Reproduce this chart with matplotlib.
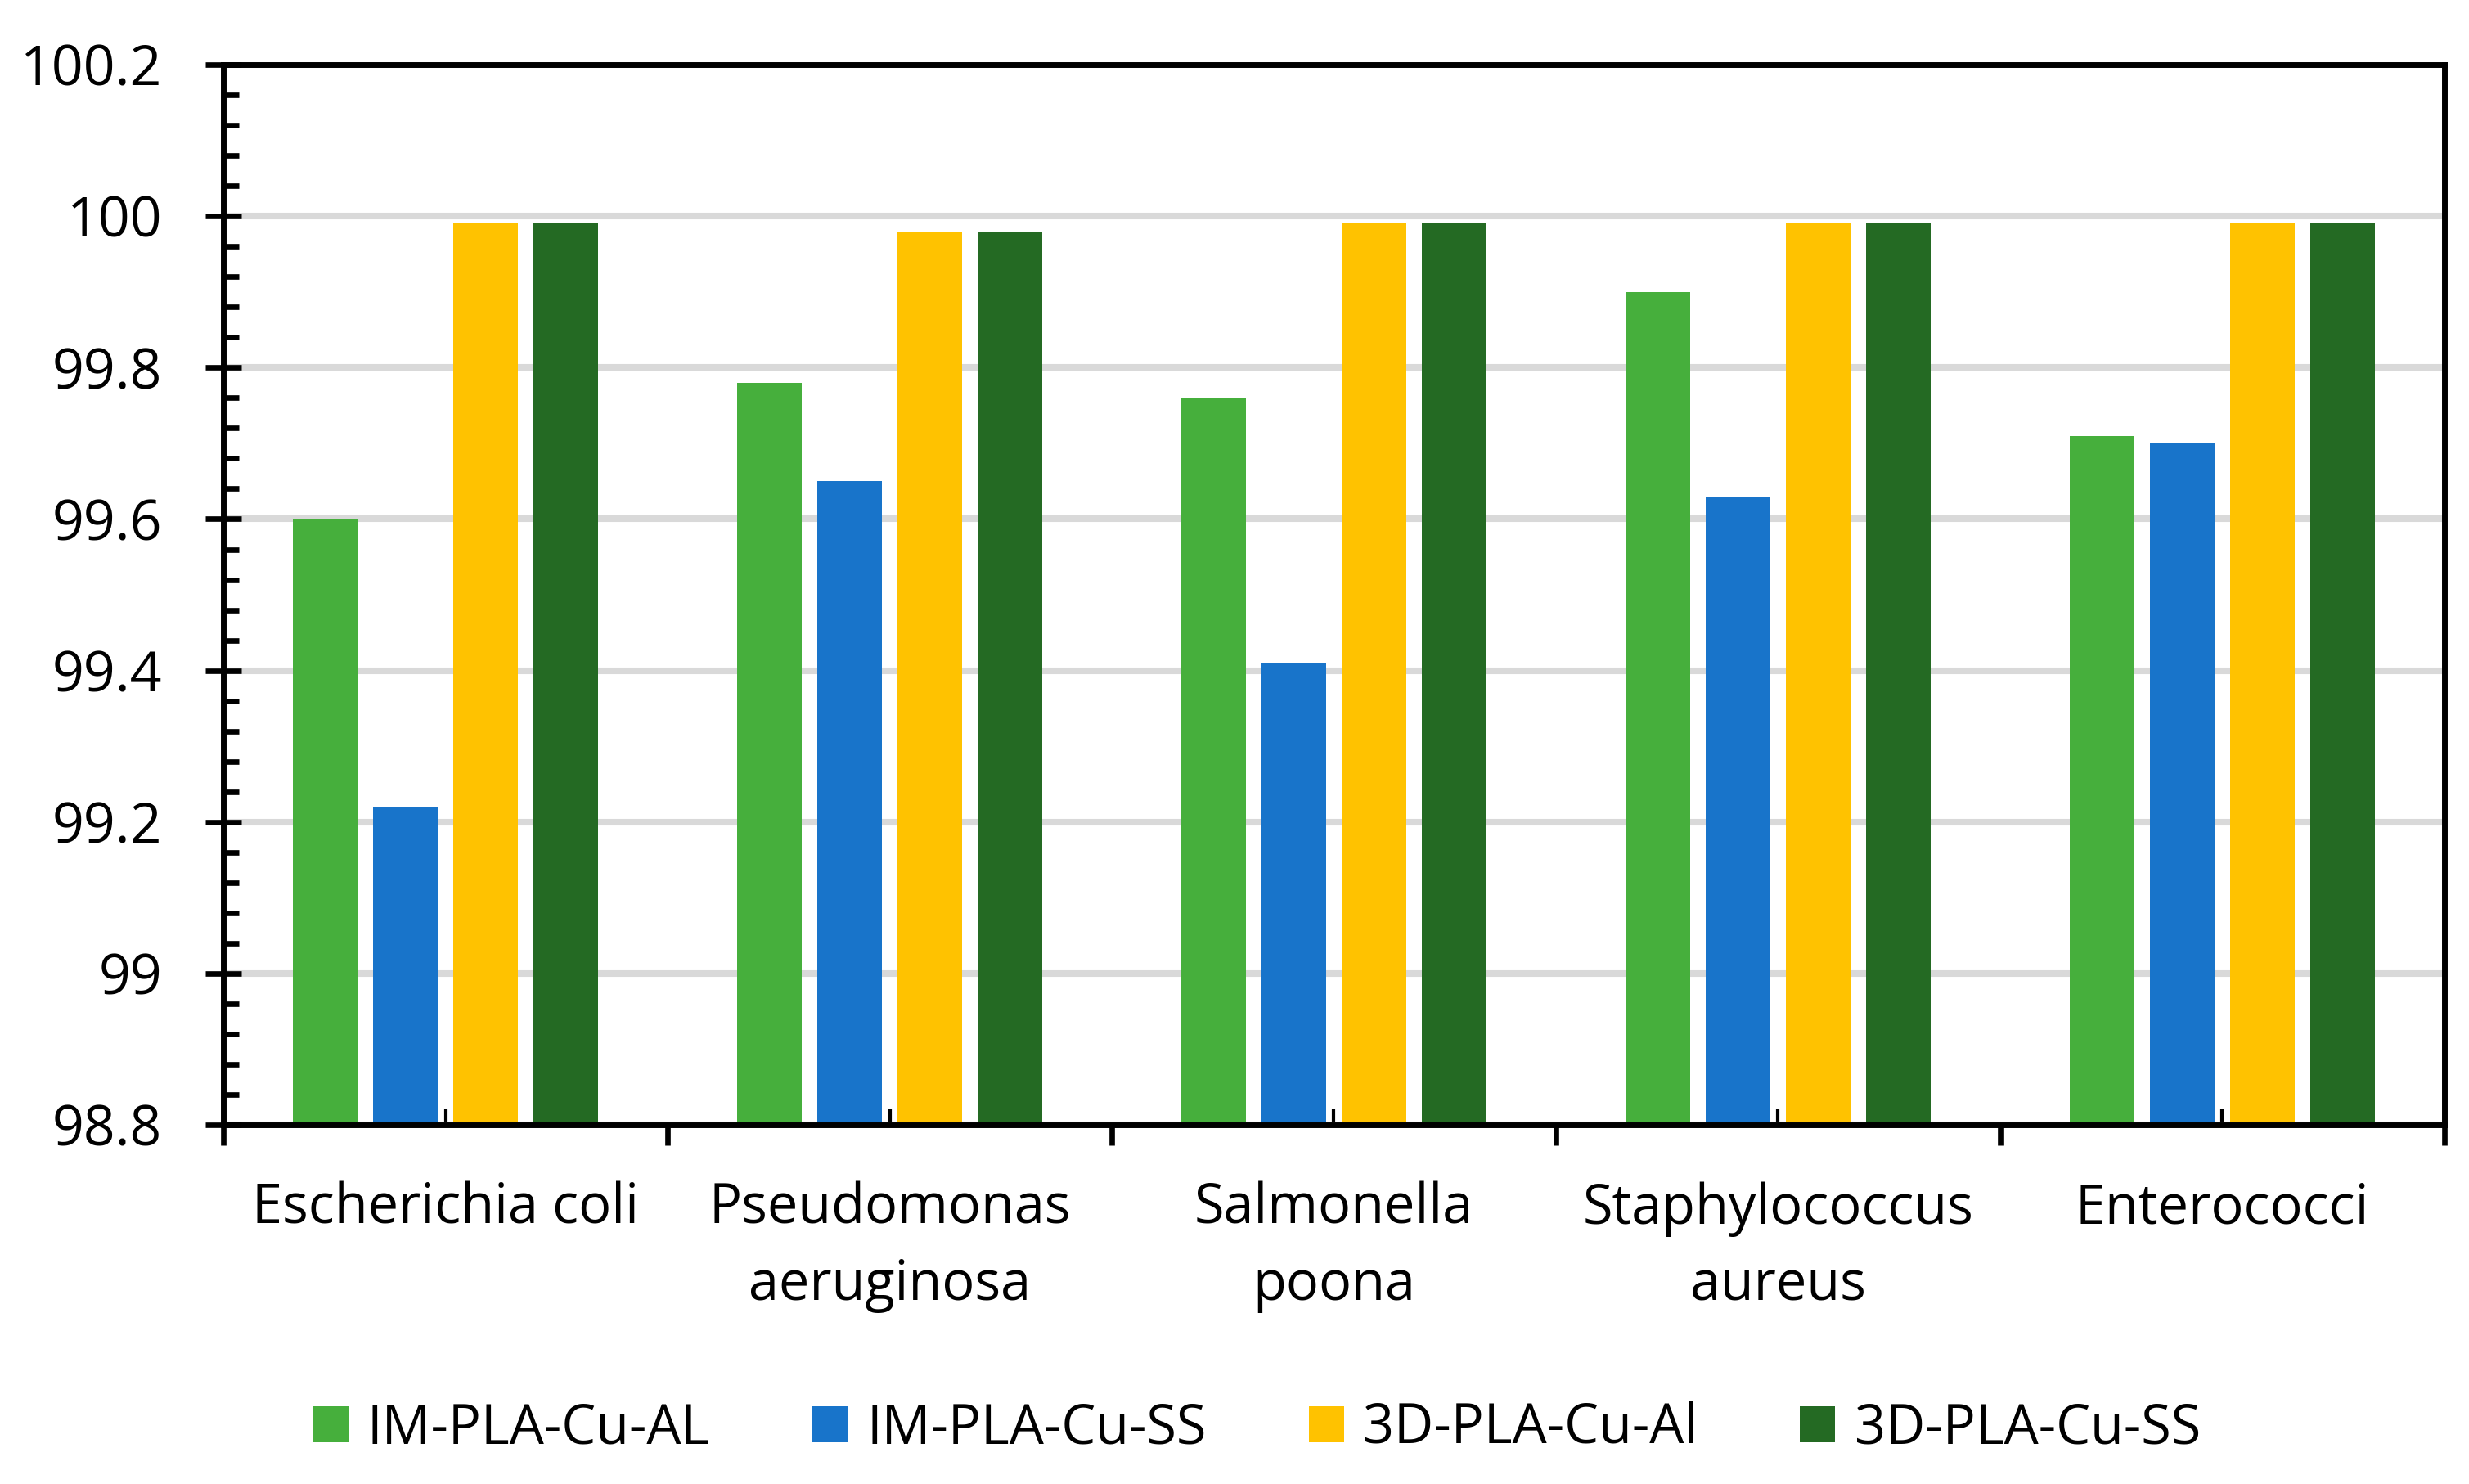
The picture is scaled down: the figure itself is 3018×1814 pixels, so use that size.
import numpy as np
import matplotlib
matplotlib.use("Agg")
import matplotlib.pyplot as plt
from matplotlib.ticker import MultipleLocator, FuncFormatter

# data
categories = ["Escherichia coli", "Pseudomonas\naeruginosa", "Salmonella\npoona",
              "Staphylococcus\naureus", "Enterococci"]
series = ["IM-PLA-Cu-AL", "IM-PLA-Cu-SS", "3D-PLA-Cu-Al", "3D-PLA-Cu-SS"]
im_al = [99.60, 99.78, 99.76, 99.90, 99.71]
im_ss = [99.22, 99.65, 99.41, 99.63, 99.70]
d3_al = [99.99, 99.98, 99.99, 99.99, 99.99]
d3_ss = [99.99, 99.98, 99.99, 99.99, 99.99]
colors = ["#46AF3C", "#1874CA", "#FFC200", "#246A23"]

plt.rcParams['font.family'] = ['Open Sans', 'DejaVu Sans']

fig = plt.figure(figsize=(15.09, 9.07), dpi=200)
ax = fig.add_axes([0.0905, 0.242, 0.8995, 0.7144])

x = np.arange(len(categories))
width = 0.1455
step = 0.1805
base = 98.8
for k, (vals, name, c) in enumerate(zip([im_al, im_ss, d3_al, d3_ss], series, colors)):
    vals = np.array(vals)
    ax.bar(x + (k - 1.5) * step, vals - base, width, bottom=base,
           color=c, label=name, zorder=2)

ax.set_xlim(-0.5, 4.5)
ax.set_ylim(98.8, 100.2)

# y axis
ax.yaxis.set_major_locator(MultipleLocator(0.2))
ax.yaxis.set_minor_locator(MultipleLocator(0.04))
ax.yaxis.set_major_formatter(FuncFormatter(lambda v, p: f"{round(v, 2):g}"))
ax.tick_params(axis='y', which='major', direction='inout', length=16, width=2.4,
               labelsize=24.5, pad=19)
ax.tick_params(axis='y', which='minor', direction='in', length=7, width=2.4)
ax.grid(axis='y', which='major', color="#D9D9D9", linewidth=2.9, zorder=0)
ax.set_axisbelow(True)

# x axis: boundary ticks outward, labels at centres
ax.set_xticks(np.arange(-0.5, 5, 1.0))
ax.set_xticklabels([])
ax.set_xticks(x, categories, minor=True)
ax.tick_params(axis='x', which='major', direction='out', length=9, width=2.4)
ax.tick_params(axis='x', which='minor', direction='in', length=7, width=1.5,
               labelsize=24, pad=25)
for lab in ax.get_xticklabels(minor=True):
    lab.set_linespacing(1.5)

for s in ax.spines.values():
    s.set_linewidth(2.5)
    s.set_color("black")

fig.legend(loc='center', bbox_to_anchor=(0.509, 0.037), ncol=4, frameon=False,
           fontsize=24, handlelength=0.65, handleheight=0.65,
           handletextpad=0.35, columnspacing=1.87)

fig.savefig("out.png", dpi=200)
